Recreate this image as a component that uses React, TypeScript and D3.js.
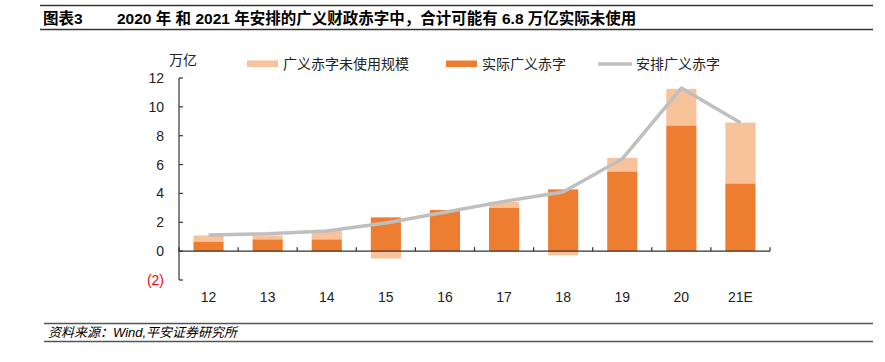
import React from "react";
import * as d3 from "d3";

const categories = ["12", "13", "14", "15", "16", "17", "18", "19", "20", "21E"];
const actualDeficit = [0.65, 0.81, 0.81, 2.34, 2.85, 3.0, 4.28, 5.51, 8.7, 4.68];
const unusedDeficit = [0.44, 0.28, 0.58, -0.51, 0.0, 0.42, -0.28, 0.95, 2.55, 4.23];
const plannedDeficit = [1.12, 1.2, 1.4, 1.95, 2.7, 3.45, 4.1, 6.4, 11.3, 8.9];
const yTicks = [-2, 0, 2, 4, 6, 8, 10, 12];
const yTickLabels = ["(2)", "0", "2", "4", "6", "8", "10", "12"];

const FONT = "'Liberation Sans', 'Noto Sans CJK SC', Arial, sans-serif";
const ORANGE = "#ED7D31";
const LIGHT = "#F8C29A";
const GRAY = "#BFBFBF";

export default function App() {
  const W = 885, H = 362;
  const x = d3.scaleBand<string>().domain(categories).range([179, 770]).paddingInner(0.49).paddingOuter(0.245);
  const y = d3.scaleLinear().domain([-2, 12]).range([280, 78]);
  const step = x.step();
  const x0 = 179;
  const line = d3.line<number>()
    .x((_, i) => (x(categories[i]) as number) + x.bandwidth() / 2)
    .y((d) => y(d));

  return (
    <svg width={W} height={H} style={{ position: "absolute", left: 0, top: 0, background: "#fff" }} fontFamily={FONT}>
      {/* header */}
      <line x1={40} x2={873} y1={5.5} y2={5.5} stroke="#333" strokeWidth={1.5} />
      <text x={43} y={24} fontSize={15.5} fontWeight="bold" fill="#000">图表3</text>
      <text x={117} y={24} fontSize={15.5} fontWeight="bold" fill="#000">2020 年 和 2021 年安排的广义财政赤字中，合计可能有 6.8 万亿实际未使用</text>
      <line x1={40} x2={873} y1={29.5} y2={29.5} stroke="#333" strokeWidth={1.5} />

      {/* unit */}
      <text x={169} y={65} fontSize={14} fill="#222">万亿</text>

      {/* legend */}
      <rect x={247} y={60.5} width={31} height={6.5} fill={LIGHT} />
      <text x={283} y={69} fontSize={14} fill="#222">广义赤字未使用规模</text>
      <rect x={446} y={60.5} width={31} height={6.5} fill={ORANGE} />
      <text x={482} y={69} fontSize={14} fill="#222">实际广义赤字</text>
      <line x1={598} x2={632} y1={64} y2={64} stroke={GRAY} strokeWidth={3.5} />
      <text x={636} y={69} fontSize={14} fill="#222">安排广义赤字</text>

      {/* bars */}
      {categories.map((c, i) => {
        const a = actualDeficit[i];
        const u = unusedDeficit[i];
        const bx = x(c) as number;
        const bw = x.bandwidth();
        const lo = u >= 0 ? a : u;
        const hi = u >= 0 ? a + u : 0;
        return (
          <g key={c}>
            {u !== 0 && <rect x={bx} y={y(hi)} width={bw} height={y(lo) - y(hi)} fill={LIGHT} />}
            <rect x={bx} y={y(a)} width={bw} height={y(0) - y(a)} fill={ORANGE} />
          </g>
        );
      })}

      {/* planned line */}
      <path d={line(plannedDeficit) as string} fill="none" stroke={GRAY} strokeWidth={3.5} strokeLinejoin="round" />

      {/* y axis */}
      <line x1={x0} x2={x0} y1={y(12)} y2={y(-2)} stroke="#333" strokeWidth={1.2} />
      {yTicks.map((t, i) => (
        <g key={t}>
          <line x1={x0} x2={x0 + 4} y1={y(t)} y2={y(t)} stroke="#333" strokeWidth={1.2} />
          <text x={164} y={y(t) + 5} fontSize={14} textAnchor="end" fill={t < 0 ? "#FF0000" : "#222"}>{yTickLabels[i]}</text>
        </g>
      ))}

      {/* x axis */}
      <line x1={x0} x2={770} y1={y(0)} y2={y(0)} stroke="#333" strokeWidth={1.2} />
      {d3.range(categories.length + 1).map((k) => (
        <line key={k} x1={x0 + k * step} x2={x0 + k * step} y1={y(0) - 4} y2={y(0)} stroke="#333" strokeWidth={1.2} />
      ))}
      {categories.map((c) => (
        <text key={c} x={(x(c) as number) + x.bandwidth() / 2} y={302} fontSize={14} textAnchor="middle" fill="#222">{c}</text>
      ))}

      {/* footer */}
      <line x1={44} x2={873} y1={323.5} y2={323.5} stroke="#555" strokeWidth={1.5} />
      <text x={48} y={337} fontSize={13} fontStyle="italic" fill="#000">资料来源：Wind,平安证券研究所</text>
      <line x1={44} x2={873} y1={341.5} y2={341.5} stroke="#555" strokeWidth={1.5} />
    </svg>
  );
}
